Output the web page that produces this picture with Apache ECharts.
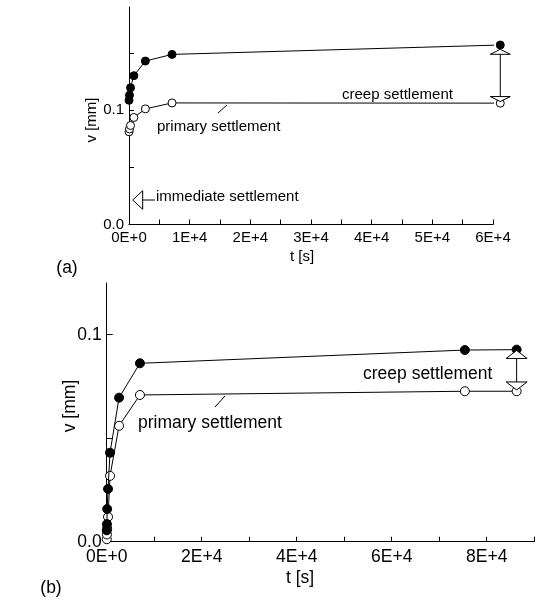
<!DOCTYPE html>
<html>
<head>
<meta charset="utf-8">
<script src="https://cdn.jsdelivr.net/npm/echarts@6/dist/echarts.min.js"></script>
<style>
html, body { margin: 0; padding: 0; background: #ffffff; }
#chart { width: 536px; height: 604px; }
</style>
</head>
<body>
<div id="chart"></div>
<script>
// (a) long-term test, t in s, v in mm
const aTime = [0, 80, 250, 800, 2700, 7100, 61200];
const aTotal = [0.1085, 0.113, 0.1195, 0.130, 0.1428, 0.1486, 0.1568];
const aPrimary = [0.081, 0.0835, 0.0865, 0.0935, 0.101, 0.1062, 0.106];
const aXTicks = [0, 5000, 10000, 15000, 20000, 25000, 30000, 35000, 40000, 45000, 50000, 55000, 60000];
const aXLabelValues = [0, 10000, 20000, 30000, 40000, 50000, 60000];
const aXLabels = ["0E+0", "1E+4", "2E+4", "3E+4", "4E+4", "5E+4", "6E+4"];
const aYTicks = [0, 0.05, 0.1, 0.15];
const aYLabelValues = [0, 0.1];
const aYLabels = ["0.0", "0.1"];

// (b)
const bTime = [20, 50, 100, 280, 700, 2600, 7000, 75400, 86300];
const bTotal = [0.0055, 0.0085, 0.0158, 0.0255, 0.043, 0.0696, 0.0862, 0.0926, 0.0928];
const bPrimary = [0.0012, 0.0035, 0.0065, 0.012, 0.0318, 0.056, 0.0709, 0.0727, 0.0727];
const bXTicks = [0, 10000, 20000, 30000, 40000, 50000, 60000, 70000, 80000, 90000];
const bXLabelValues = [0, 20000, 40000, 60000, 80000];
const bXLabels = ["0E+0", "2E+4", "4E+4", "6E+4", "8E+4"];
const bYTicks = [0, 0.05, 0.1];
const bYLabelValues = [0, 0.1];
const bYLabels = ["0.0", "0.1"];

const FONT = "Liberation Sans, Arial, sans-serif";

function pick(values, labels) {
  return function (v) {
    const i = values.findIndex((x) => Math.abs(x - v) < 1e-9);
    return i < 0 ? "" : labels[i];
  };
}
function zip(t, v) {
  return t.map((x, i) => [x, v[i]]);
}

function xAxis(gridIndex, max, ticks, labelValues, labels, size, tickLen) {
  return {
    type: "value", gridIndex, min: 0, max,
    axisLine: { lineStyle: { color: "#000", width: 1 } },
    axisTick: { inside: true, length: tickLen, customValues: ticks, lineStyle: { color: "#000" } },
    axisLabel: { customValues: labelValues, formatter: pick(labelValues, labels), color: "#000", fontSize: size, fontFamily: FONT, margin: 6 },
    splitLine: { show: false },
  };
}
function yAxis(gridIndex, max, ticks, labelValues, labels, size, tickLen) {
  return {
    type: "value", gridIndex, min: 0, max,
    axisLine: { show: true, lineStyle: { color: "#000", width: 1 } },
    axisTick: { show: true, inside: true, length: tickLen, customValues: ticks, lineStyle: { color: "#000" } },
    axisLabel: { customValues: labelValues, formatter: pick(labelValues, labels), color: "#000", fontSize: size, fontFamily: FONT, margin: 5 },
    splitLine: { show: false },
  };
}
function series(idx, data, filled, size) {
  return {
    type: "line", xAxisIndex: idx, yAxisIndex: idx, data,
    clip: false, symbol: "circle", symbolSize: size, showSymbol: true,
    lineStyle: { color: "#000", width: 1 },
    itemStyle: filled
      ? { color: "#000", borderColor: "#000", borderWidth: 1 }
      : { color: "#fff", borderColor: "#000", borderWidth: 1 },
    z: filled ? 3 : 2,
  };
}

const myChart = echarts.init(document.getElementById("chart"));
myChart.setOption({
  animation: false,
  backgroundColor: "#fff",
  grid: [
    { left: 129, top: 7, width: 364, height: 217.5 },
    { left: 106.7, top: 283, width: 427.5, height: 258.7 },
  ],
  xAxis: [
    xAxis(0, 60000, aXTicks, aXLabelValues, aXLabels, 15, 5),
    xAxis(1, 90000, bXTicks, bXLabelValues, bXLabels, 17.5, 5),
  ],
  yAxis: [
    yAxis(0, 0.19, aYTicks, aYLabelValues, aYLabels, 15, 5),
    yAxis(1, 0.125, bYTicks, bYLabelValues, bYLabels, 17.5, 6),
  ],
  series: [
    series(0, zip(aTime, aPrimary), false, 8),
    series(0, zip(aTime, aTotal), true, 8),
    series(1, zip(bTime, bPrimary), false, 9),
    series(1, zip(bTime, bTotal), true, 9),
  ],
});

// double arrow between total and primary at the last time
function creepArrow(grid, t, vTop, vBottom, gapTop, gapBottom, w, h) {
  const top = myChart.convertToPixel({ gridIndex: grid }, [t, vTop]);
  const bot = myChart.convertToPixel({ gridIndex: grid }, [t, vBottom]);
  const x = top[0];
  const y1 = top[1] + gapTop;
  const y2 = bot[1] - gapBottom;
  const style = { fill: "#fff", stroke: "#000", lineWidth: 1 };
  return [
    { type: "line", shape: { x1: x, y1: y1, x2: x, y2: y2 }, style: { stroke: "#000", lineWidth: 1 }, z: 10 },
    { type: "polygon", shape: { points: [[x, y1], [x - w / 2, y1 + h], [x + w / 2, y1 + h]] }, style, z: 11 },
    { type: "polygon", shape: { points: [[x, y2], [x - w / 2, y2 - h], [x + w / 2, y2 - h]] }, style, z: 11 },
  ];
}
function label(text, x, y, size, extra) {
  return Object.assign({
    type: "text", x, y, z: 12,
    style: { text, fill: "#000", fontSize: size, fontFamily: FONT, textVerticalAlign: "middle" },
  }, extra || {});
}

const aLast = aTime.length - 1;
const bLast = bTime.length - 1;
myChart.setOption({
  graphic: [
    ...creepArrow(0, aTime[aLast], aTotal[aLast], aPrimary[aLast], 4.3, 1.6, 20, 5),
    ...creepArrow(1, bTime[bLast], bTotal[bLast], bPrimary[bLast], 0.8, 1.3, 21, 8),
    label("creep settlement", 342, 95, 15),
    label("primary settlement", 157, 127, 15),
    { type: "line", shape: { x1: 218, y1: 113, x2: 227, y2: 105 }, style: { stroke: "#000", lineWidth: 1 } },
    { type: "polygon", shape: { points: [[132.7, 200], [142.7, 190.7], [142.7, 209.3]] }, style: { fill: "#fff", stroke: "#000", lineWidth: 1 } },
    { type: "line", shape: { x1: 142.7, y1: 200, x2: 155, y2: 200 }, style: { stroke: "#000", lineWidth: 1 } },
    label("immediate settlement", 156, 197, 15),
    label("t [s]", 302, 257, 15, { style: { text: "t [s]", fill: "#000", fontSize: 15, fontFamily: FONT, textAlign: "center", textVerticalAlign: "middle" } }),
    label("v [mm]", 92, 120, 15, { rotation: Math.PI / 2, style: { text: "v [mm]", fill: "#000", fontSize: 15, fontFamily: FONT, textAlign: "center", textVerticalAlign: "middle" } }),
    label("(a)", 67, 268, 17.5, { style: { text: "(a)", fill: "#000", fontSize: 17.5, fontFamily: FONT, textAlign: "center", textVerticalAlign: "middle" } }),
    label("creep settlement", 363, 374, 17.5),
    label("primary settlement", 138, 423, 17.5),
    { type: "line", shape: { x1: 215, y1: 407, x2: 225, y2: 396 }, style: { stroke: "#000", lineWidth: 1 } },
    label("t [s]", 300, 578, 17.5, { style: { text: "t [s]", fill: "#000", fontSize: 17.5, fontFamily: FONT, textAlign: "center", textVerticalAlign: "middle" } }),
    label("v [mm]", 70, 406, 17.5, { rotation: Math.PI / 2, style: { text: "v [mm]", fill: "#000", fontSize: 17.5, fontFamily: FONT, textAlign: "center", textVerticalAlign: "middle" } }),
    label("(b)", 51, 588, 17.5, { style: { text: "(b)", fill: "#000", fontSize: 17.5, fontFamily: FONT, textAlign: "center", textVerticalAlign: "middle" } }),
  ],
});
</script>
</body>
</html>
